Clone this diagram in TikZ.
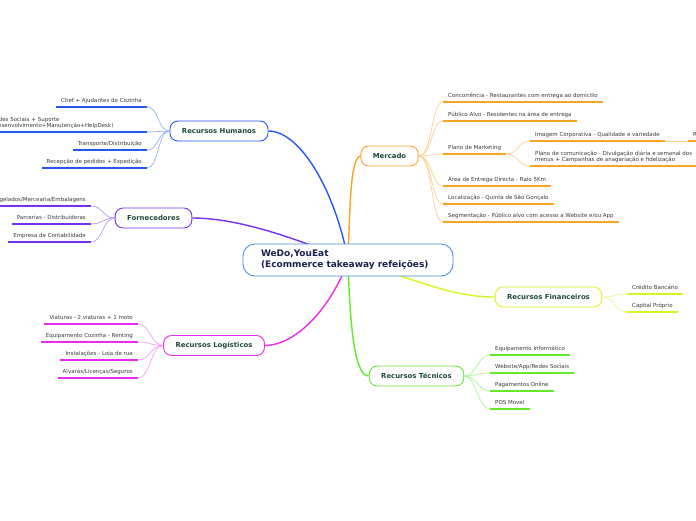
\documentclass[tikz,border=0pt]{standalone}
\usepackage{fontspec}
\setmainfont{DejaVu Sans}
\usetikzlibrary{backgrounds}

\definecolor{hubline}{HTML}{4A90D9}
\definecolor{hubtext}{HTML}{1B2250}
\definecolor{maintext}{HTML}{1E4A3C}
\definecolor{leaftext}{HTML}{3A3A3A}
\definecolor{rhcol}{HTML}{2458F2}
\definecolor{rhsoft}{HTML}{98B2FA}
\definecolor{fncol}{HTML}{7A2EF0}
\definecolor{fnsoft}{HTML}{B898F6}
\definecolor{lgcol}{HTML}{EC2CEC}
\definecolor{lgsoft}{HTML}{F59CF5}
\definecolor{mkcol}{HTML}{F7A425}
\definecolor{mksoft}{HTML}{FBD08E}
\definecolor{ficol}{HTML}{D6F522}
\definecolor{fisoft}{HTML}{E8F98E}
\definecolor{tccol}{HTML}{62EA2A}
\definecolor{tcsoft}{HTML}{AEF496}

\tikzset{
	hub/.style={draw=hubline, line width=0.9pt, fill=white, rounded corners=12pt,
		text width=174pt, inner xsep=18pt, minimum height=32pt, align=left,
		font=\fontsize{9}{11}\selectfont\bfseries, text=hubtext},
	topic/.style={draw=#1, line width=0.9pt, fill=white, rounded corners=8pt,
		minimum height=20pt, inner xsep=12pt,
		font=\fontsize{6.9}{8}\selectfont\bfseries, text=maintext},
	leaf/.style={font=\fontsize{5.5}{6.2}\selectfont, text=leaftext, align=left,
		inner xsep=5pt, inner ysep=3pt, text depth=1.5pt},
	bar/.style={draw=#1, line width=1.6pt},
	twig/.style={draw=#1, line width=0.7pt},
	branch/.style={draw=#1, line width=1.4pt}
}

\begin{document}
\begin{tikzpicture}[x=1pt,y=-1pt]
	\useasboundingbox (0,0) rectangle (696,520);
	% centre and topics
	\node[hub] (wd) at (348,260) {WeDo,YouEat\\(Ecommerce takeaway refeições)};
	\node[topic=rhcol] (rh) at (219,131) {Recursos Humanos};
	\node[topic=fncol] (fn) at (153.5,218) {Fornecedores};
	\node[topic=lgcol] (lg) at (214,345.5) {Recursos Logísticos};
	\node[topic=mkcol] (mk) at (389.5,156) {Mercado};
	\node[topic=ficol] (fi) at (548.5,297) {Recursos Financeiros};
	\node[topic=tccol] (tc) at (416.5,376) {Recursos Técnicos};
	% recursos humanos
	\node[leaf,anchor=south east] (rhchef) at (147,107) {Chef + Ajudantes de Cozinha};
	\node[leaf,anchor=south east,text width=150pt,text depth=7.7pt] (rhredes) at (147,132) {Redes Sociais + Suporte\\(Desenvolvimento+Manutenção+HelpDesk)};
	\node[leaf,anchor=south east] (rhtransp) at (147,150) {Transporte/Distribuição};
	\node[leaf,anchor=south east] (rhrecep) at (147,168) {Recepção de pedidos + Expedição};
	% fornecedores
	\node[leaf,anchor=south east] (fncong) at (91,206) {Congelados/Mercearia/Embalagens};
	\node[leaf,anchor=south east] (fnparc) at (91,224) {Parcerias - Distribuidoras};
	\node[leaf,anchor=south east] (fncont) at (91,242) {Empresa de Contabilidade};
	% logistica
	\node[leaf,anchor=south east] (lgviat) at (138,324) {Viaturas - 2 viaturas + 1 moto};
	\node[leaf,anchor=south east] (lgequip) at (138,342) {Equipamento Cozinha - Renting};
	\node[leaf,anchor=south east] (lginst) at (138,360) {Instalações - Loja de rua};
	\node[leaf,anchor=south east] (lgalv) at (138,378) {Alvarás/Licenças/Seguros};
	% mercado
	\node[leaf,anchor=south west] (mkconc) at (443,102) {Concorrência - Restaurantes com entrega ao domicilio};
	\node[leaf,anchor=south west] (mkpub) at (443,121) {Público Alvo - Residentes na área de entrega};
	\node[leaf,anchor=south west] (mkplano) at (443,154) {Plano de Marketing};
	\node[leaf,anchor=south west] (mkarea) at (443,186) {Área de Entrega Directa - Raio 5Km};
	\node[leaf,anchor=south west] (mkloc) at (443,204) {Localização - Quinta de São Gonçalo};
	\node[leaf,anchor=south west] (mkseg) at (443,222) {Segmentação - Público alvo com acesso a Website e/ou App};
	\node[leaf,anchor=south west] (mkimg) at (530,141) {Imagem Corporativa - Qualidade e variedade};
	\node[leaf,anchor=south west] (mkr) at (688,141) {R};
	\node[leaf,anchor=south west] (mkcom) at (530,166) {Plano de comunicação - Divulgação diária e semanal dos\\menus + Campanhas de anagariação e fidelização};
	% financeiros
	\node[leaf,anchor=south west] (ficred) at (627,294) {Crédito Bancário};
	\node[leaf,anchor=south west] (ficap) at (627,312) {Capital Próprio};
	% tecnicos
	\node[leaf,anchor=south west] (tcequip) at (490,355) {Equipamento Informático};
	\node[leaf,anchor=south west] (tcweb) at (490,373) {Website/App/Redes Sociais};
	\node[leaf,anchor=south west] (tcpag) at (490,391) {Pagamentos Online};
	\node[leaf,anchor=south west] (tcpos) at (490,409) {POS Movel};
	% underlines
	\foreach \n in {rhchef,rhredes,rhtransp,rhrecep}
		\draw[bar=rhcol] (\n.south west) -- (\n.south east);
	\foreach \n in {fncong,fnparc,fncont}
		\draw[bar=fncol] (\n.south west) -- (\n.south east);
	\foreach \n in {lgviat,lgequip,lginst,lgalv}
		\draw[bar=lgcol] (\n.south west) -- (\n.south east);
	\foreach \n in {mkconc,mkpub,mkplano,mkarea,mkloc,mkseg,mkimg,mkr,mkcom}
		\draw[bar=mkcol] (\n.south west) -- (\n.south east);
	\foreach \n in {ficred,ficap}
		\draw[bar=ficol] (\n.south west) -- (\n.south east);
	\foreach \n in {tcequip,tcweb,tcpag,tcpos}
		\draw[bar=tccol] (\n.south west) -- (\n.south east);
	% twigs
	\foreach \n in {rhchef,rhredes,rhtransp,rhrecep}
		\draw[twig=rhsoft] (rh.west) .. controls +(-12,0) and +(12,0) .. (\n.south east);
	\foreach \n in {fncong,fnparc,fncont}
		\draw[twig=fnsoft] (fn.west) .. controls +(-12,0) and +(12,0) .. (\n.south east);
	\foreach \n in {lgviat,lgequip,lginst,lgalv}
		\draw[twig=lgsoft] (lg.west) .. controls +(-12,0) and +(12,0) .. (\n.south east);
	\foreach \n in {mkconc,mkpub,mkplano,mkarea,mkloc,mkseg}
		\draw[twig=mksoft] (mk.east) .. controls +(14,0) and +(-12,0) .. (\n.south west);
	\foreach \n in {mkimg,mkcom}
		\draw[twig=mksoft] (mkplano.south east) .. controls +(12,0) and +(-12,0) .. (\n.south west);
	\draw[twig=mksoft] (mkimg.south east) -- (mkr.south west);
	\foreach \n in {ficred,ficap}
		\draw[twig=fisoft] (fi.east) .. controls +(12,0) and +(-12,0) .. (\n.south west);
	\foreach \n in {tcequip,tcweb,tcpag,tcpos}
		\draw[twig=tcsoft] (tc.east) .. controls +(12,0) and +(-12,0) .. (\n.south west);
	% branches, behind the centre
	\begin{scope}[on background layer]
		\fill[white] (0,0) rectangle (696,520);
		\draw[branch=rhcol] (wd.center) .. controls (335,190) and (300,131) .. (rh.east);
		\draw[branch=fncol] (wd.center) .. controls (300,240) and (240,218) .. (fn.east);
		\draw[branch=lgcol] (wd.center) .. controls (335,300) and (300,345) .. (lg.east);
		\draw[branch=mkcol] (wd.center) .. controls (350,210) and (350,158) .. (mk.west);
		\draw[branch=ficol] (wd.center) .. controls (420,280) and (450,297) .. (fi.west);
		\draw[branch=tccol] (wd.center) .. controls (350,330) and (355,376) .. (tc.west);
	\end{scope}
\end{tikzpicture}
\end{document}
